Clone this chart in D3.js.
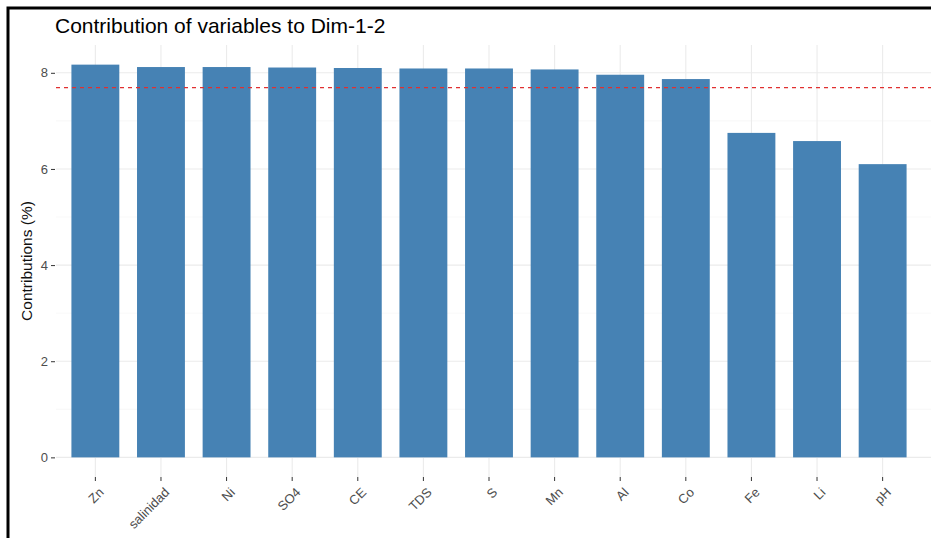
<!DOCTYPE html>
<html><head><meta charset="utf-8">
<script src="https://cdn.jsdelivr.net/npm/d3@7"></script>
<style>body{margin:0;background:#fff}svg{display:block}</style>
</head><body>
<script>
const categories = ["Zn","salinidad","Ni","SO4","CE","TDS","S","Mn","Al","Co","Fe","Li","pH"];
const contributions = [8.17,8.12,8.12,8.11,8.10,8.09,8.09,8.07,7.96,7.87,6.75,6.58,6.10];
const yTicks = [0,2,4,6,8];
const yMinor = [1,3,5,7];
const expectedValue = 100/13;
const titleText = "Contribution of variables to Dim-1-2";
const yLabel = "Contributions (%)";

(function(){
const W = 931, H = 538;
const font = "Liberation Sans, Arial, sans-serif";
const svg = d3.select("body").append("svg").attr("width", W).attr("height", H);
svg.append("rect").attr("width", W).attr("height", H).attr("fill", "#fff");

const pLeft = 56, pRight = 922, panelRight = 931, pTop = 45, pBottom = 477;
const x = d3.scaleBand().domain(categories).range([pLeft, pRight]).paddingInner(0.27).paddingOuter(0.235);
const ymax = d3.max(contributions);
const y = d3.scaleLinear().domain([-0.05*ymax, ymax*1.05]).range([pBottom, pTop]);

const g = svg.append("g");
g.selectAll(".minor").data(yMinor).join("line")
  .attr("x1", pLeft).attr("x2", panelRight).attr("y1", d=>y(d)).attr("y2", d=>y(d))
  .attr("stroke", "#f4f4f4").attr("stroke-width", 0.6);
g.selectAll(".major").data(yTicks).join("line")
  .attr("x1", pLeft).attr("x2", panelRight).attr("y1", d=>y(d)).attr("y2", d=>y(d))
  .attr("stroke", "#ebebeb").attr("stroke-width", 1.1);
g.selectAll(".vmajor").data(categories).join("line")
  .attr("x1", d=>x(d)+x.bandwidth()/2).attr("x2", d=>x(d)+x.bandwidth()/2)
  .attr("y1", pTop).attr("y2", pBottom)
  .attr("stroke", "#ebebeb").attr("stroke-width", 1.1);

g.selectAll(".bar").data(categories).join("rect")
  .attr("x", d=>x(d)).attr("width", x.bandwidth())
  .attr("y", (d,i)=>y(contributions[i])).attr("height", (d,i)=>y(0)-y(contributions[i]))
  .attr("fill", "#4682B4");

g.append("line").attr("x1", pLeft).attr("x2", panelRight)
  .attr("y1", y(expectedValue)).attr("y2", y(expectedValue))
  .attr("stroke", "#e03030").attr("stroke-width", 1.1).attr("stroke-dasharray", "4,4");

const yAxis = d3.axisLeft(y).tickValues(yTicks).tickSize(4).tickPadding(3).tickFormat(d3.format("d"));
const ya = svg.append("g").attr("transform", `translate(${pLeft-1},0)`).call(yAxis);
ya.select(".domain").remove();
ya.selectAll("line").attr("stroke", "#333").attr("stroke-width", 1);
ya.selectAll("text").attr("fill", "#4d4d4d").attr("font-size", 13).attr("font-family", font);

const xAxis = d3.axisBottom(x).tickSize(4).tickPadding(3);
const xa = svg.append("g").attr("transform", `translate(0,${pBottom})`).call(xAxis);
xa.select(".domain").remove();
xa.selectAll("line").attr("stroke", "#333").attr("stroke-width", 1);
xa.selectAll("text")
  .attr("fill", "#4d4d4d").attr("font-size", 13).attr("font-family", font)
  .attr("text-anchor", "end").attr("dy", "0.35em").attr("y", 0)
  .attr("transform", "translate(6,13) rotate(-45)");

svg.append("text").attr("x", 55).attr("y", 33).text(titleText)
  .attr("font-size", 21).attr("fill", "#000").attr("font-family", font);

svg.append("text").attr("transform", "translate(32,261) rotate(-90)").attr("text-anchor", "middle")
  .text(yLabel).attr("font-size", 15.5).attr("fill", "#111").attr("font-family", font);

svg.append("path").attr("d", `M8,${H} V8 H${W}`).attr("fill", "none").attr("stroke", "#000").attr("stroke-width", 3);
})();
</script>
</body></html>
